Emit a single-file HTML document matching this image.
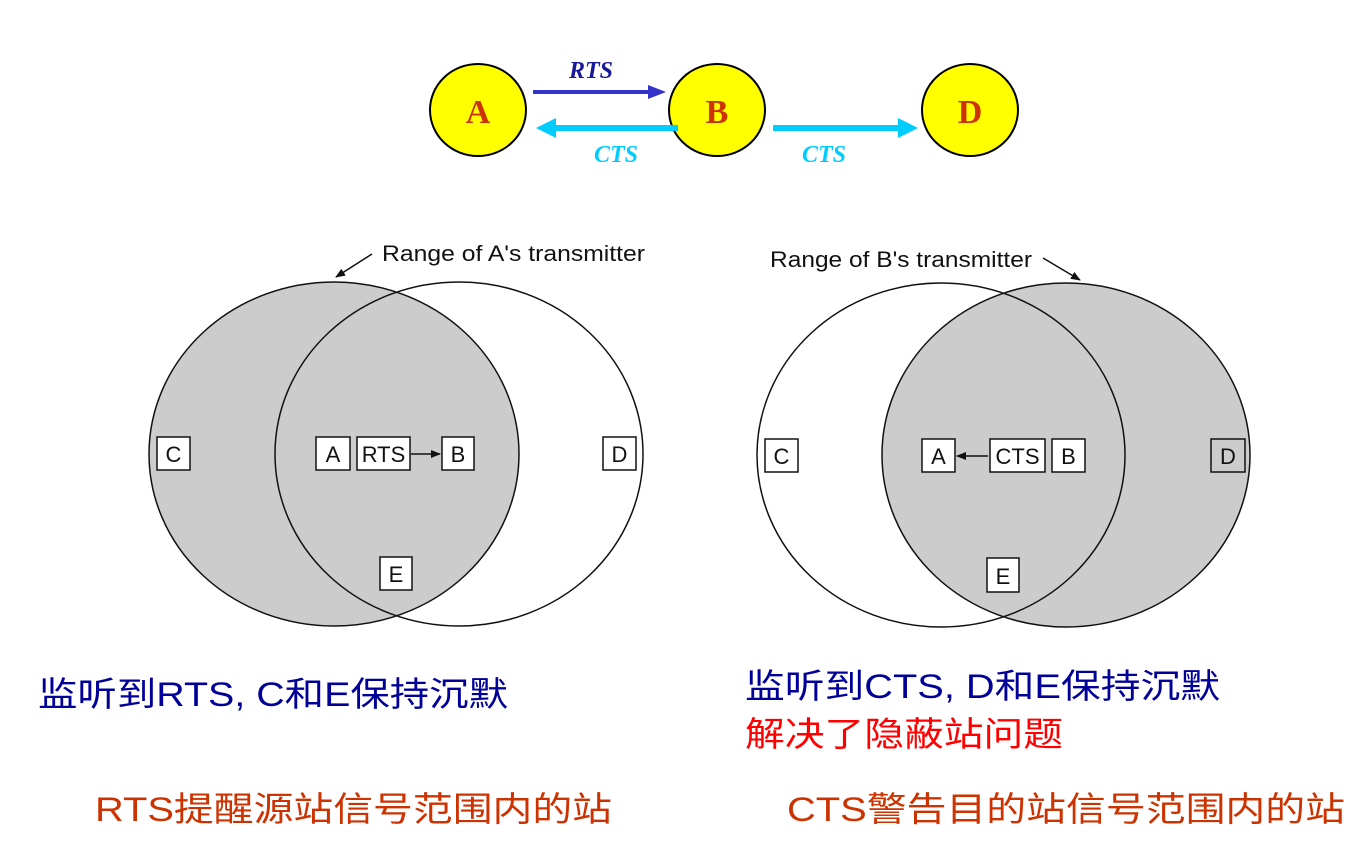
<!DOCTYPE html>
<html><head><meta charset="utf-8"><style>
html,body{margin:0;padding:0;background:#fff;width:1370px;height:843px;overflow:hidden}
svg{display:block}
.lbl{font-family:"Liberation Sans",sans-serif;font-size:22px;fill:#111}
.bx{fill:#fff;stroke:#111;stroke-width:1.5}
.cj{font-family:"Liberation Sans","Noto Sans CJK SC",sans-serif;font-size:34px}
</style></head><body>
<svg width="1370" height="843" viewBox="0 0 1370 843" xmlns="http://www.w3.org/2000/svg">
<defs>
<marker id="ah" markerWidth="10" markerHeight="8" refX="9" refY="4" orient="auto" markerUnits="userSpaceOnUse"><path d="M0,0 L10,4 L0,8z" fill="#111"/></marker>
</defs>
<!-- top -->
<ellipse cx="478" cy="110" rx="48" ry="46" fill="#ffff00" stroke="#000" stroke-width="2"/>
<ellipse cx="717" cy="110" rx="48" ry="46" fill="#ffff00" stroke="#000" stroke-width="2"/>
<ellipse cx="970" cy="110" rx="48" ry="46" fill="#ffff00" stroke="#000" stroke-width="2"/>
<g font-family="Liberation Serif,serif" font-weight="bold" font-size="34" fill="#cc3300" text-anchor="middle">
<text x="478" y="123">A</text><text x="717" y="123">B</text><text x="970" y="123">D</text></g>
<line x1="533" y1="92" x2="652" y2="92" stroke="#3333cc" stroke-width="4"/>
<path d="M648,85 L666,92 L648,99z" fill="#3333cc"/>
<line x1="552" y1="128" x2="678" y2="128" stroke="#00ccff" stroke-width="6"/>
<path d="M536,128 L556,118 L556,138z" fill="#00ccff"/>
<line x1="773" y1="128" x2="900" y2="128" stroke="#00ccff" stroke-width="6"/>
<path d="M918,128 L898,118 L898,138z" fill="#00ccff"/>
<g font-family="Liberation Serif,serif" font-weight="bold" font-style="italic" font-size="24">
<text x="569" y="78" fill="#1a1a99">RTS</text>
<text x="594" y="162" fill="#00ccff">CTS</text>
<text x="802" y="162" fill="#00ccff">CTS</text></g>
<!-- left venn -->
<ellipse cx="334" cy="454" rx="185" ry="172" fill="#cccccc" stroke="#111" stroke-width="1.5"/>
<ellipse cx="459" cy="454" rx="184" ry="172" fill="none" stroke="#111" stroke-width="1.5"/>
<text class="lbl" x="382" y="261" textLength="263" lengthAdjust="spacingAndGlyphs">Range of A's transmitter</text>
<line x1="372" y1="254" x2="336" y2="277" stroke="#111" stroke-width="1.5" marker-end="url(#ah)"/>
<rect class="bx" x="157" y="437" width="33" height="33"/><text class="lbl" x="173.5" y="462" text-anchor="middle">C</text>
<rect class="bx" x="316" y="437" width="34" height="33"/><text class="lbl" x="333" y="462" text-anchor="middle">A</text>
<rect class="bx" x="357" y="437" width="53" height="33"/><text class="lbl" x="383.5" y="462" text-anchor="middle">RTS</text>
<line x1="411" y1="454" x2="440" y2="454" stroke="#111" stroke-width="1.5" marker-end="url(#ah)"/>
<rect class="bx" x="442" y="437" width="32" height="33"/><text class="lbl" x="458" y="462" text-anchor="middle">B</text>
<rect class="bx" x="603" y="437" width="33" height="33"/><text class="lbl" x="619.5" y="462" text-anchor="middle">D</text>
<rect class="bx" x="380" y="557" width="32" height="33"/><text class="lbl" x="396" y="582" text-anchor="middle">E</text>
<!-- right venn -->
<ellipse cx="1066" cy="455" rx="184" ry="172" fill="#cccccc" stroke="#111" stroke-width="1.5"/>
<ellipse cx="941" cy="455" rx="184" ry="172" fill="none" stroke="#111" stroke-width="1.5"/>
<text class="lbl" x="770" y="267" textLength="262" lengthAdjust="spacingAndGlyphs">Range of B's transmitter</text>
<line x1="1043" y1="258" x2="1080" y2="280" stroke="#111" stroke-width="1.5" marker-end="url(#ah)"/>
<rect class="bx" x="765" y="439" width="33" height="33"/><text class="lbl" x="781.5" y="464" text-anchor="middle">C</text>
<rect class="bx" x="922" y="439" width="33" height="33"/><text class="lbl" x="938.5" y="464" text-anchor="middle">A</text>
<line x1="988" y1="456" x2="957" y2="456" stroke="#111" stroke-width="1.5" marker-end="url(#ah)"/>
<rect class="bx" x="990" y="439" width="55" height="33"/><text class="lbl" x="1017.5" y="464" text-anchor="middle">CTS</text>
<rect class="bx" x="1052" y="439" width="33" height="33"/><text class="lbl" x="1068.5" y="464" text-anchor="middle">B</text>
<rect class="bx" x="1211" y="439" width="34" height="33" style="fill:#ccc"/><text class="lbl" x="1228" y="464" text-anchor="middle">D</text>
<rect class="bx" x="987" y="558" width="32" height="34"/><text class="lbl" x="1003" y="584" text-anchor="middle">E</text>
<!-- captions -->
<text class="cj" x="38" y="706" fill="#000099" textLength="470" lengthAdjust="spacingAndGlyphs">监听到RTS, C和E保持沉默</text>
<text class="cj" x="95" y="821" fill="#cc3300" textLength="517" lengthAdjust="spacingAndGlyphs">RTS提醒源站信号范围内的站</text>
<text class="cj" x="745" y="698" fill="#000099" textLength="475" lengthAdjust="spacingAndGlyphs">监听到CTS, D和E保持沉默</text>
<text class="cj" x="745" y="746" fill="#ff0000" textLength="318" lengthAdjust="spacingAndGlyphs">解决了隐蔽站问题</text>
<text class="cj" x="787" y="821" fill="#cc3300" textLength="558" lengthAdjust="spacingAndGlyphs">CTS警告目的站信号范围内的站</text>
</svg>
</body></html>
